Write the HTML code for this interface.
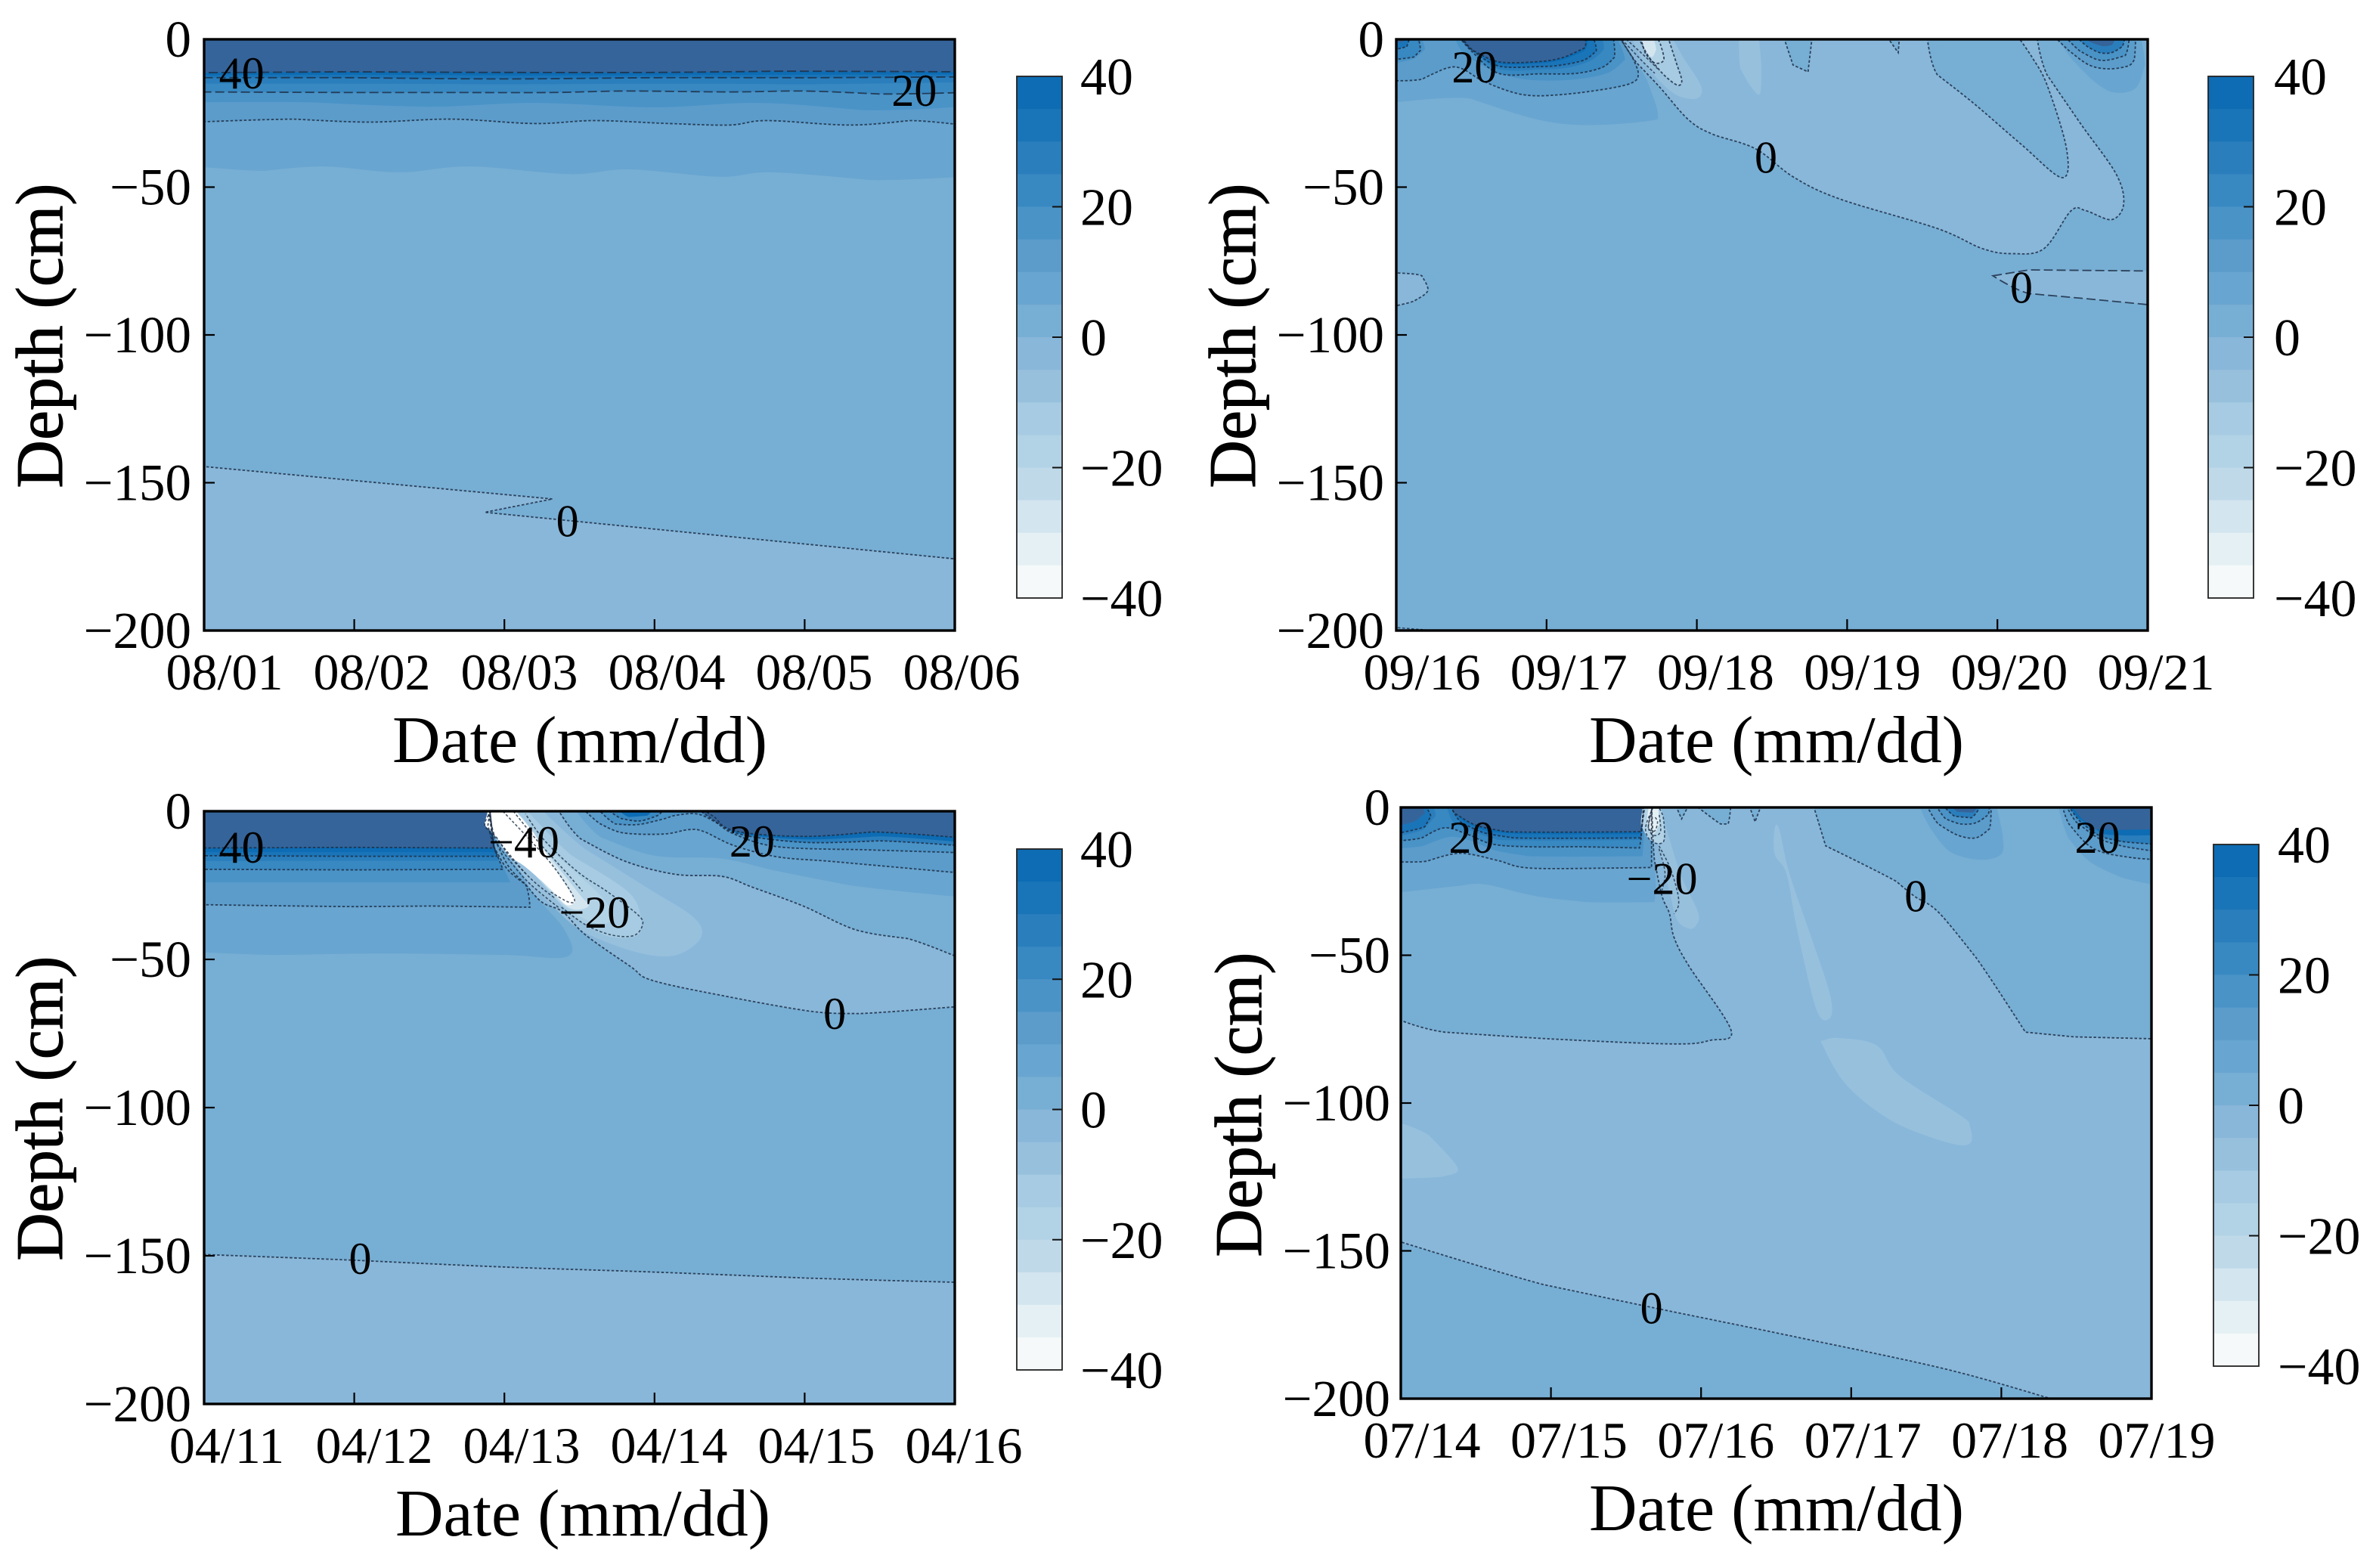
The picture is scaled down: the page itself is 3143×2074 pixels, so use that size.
<!DOCTYPE html>
<html lang="en">
<head>
<meta charset="utf-8">
<title>Soil temperature contour panels</title>
<style>
html,body{margin:0;padding:0;background:#fff;width:3143px;height:2074px;overflow:hidden}
svg{display:block}
text{font-family:"Liberation Serif","DejaVu Serif",serif;fill:#000}
</style>
</head>
<body>
<svg id="figure" xmlns="http://www.w3.org/2000/svg" width="3143" height="2074" viewBox="0 0 3143 2074"></svg>
<script>
/* ---------- shared axis values ---------- */
const dayTicks = [0, 1, 2, 3, 4, 5];
const depthTicks = [0, -50, -100, -150, -200];
const depthTickLabels = ['0', '\u221250', '\u2212100', '\u2212150', '\u2212200'];
const colorbarTicks = [40, 20, 0, -20, -40];
const colorbarTickLabels = ['40', '20', '0', '\u221220', '\u221240'];
const colorLevels = [35, 30, 25, 20, 15, 10, 5, 0, -5, -10, -15, -20, -25, -30, -35, -40];

const dayLabelsA = ['08/01', '08/02', '08/03', '08/04', '08/05', '08/06'];
const dayLabelsB = ['09/16', '09/17', '09/18', '09/19', '09/20', '09/21'];
const dayLabelsC = ['04/11', '04/12', '04/13', '04/14', '04/15', '04/16'];
const dayLabelsD = ['07/14', '07/15', '07/16', '07/17', '07/18', '07/19'];

/* Regions are rings of [day since start, cm below surface]; a third item 1 marks a sharp corner.
   Points outside the plot are only used to close a ring beyond the frame. */

/* ---------- panel A ---------- */
const aBaseLevel = -5;
const a0 = [[-.05,-2],[5.05,-2],[5.05,176],[1.87,160,1],[2.32,155.5,1],[-.05,144.3]];
const a5 = [[-.05,-2],[-.05,43],[.4,44.5],[.8,43],[1.3,45],[1.77,43],[2.43,45.6],[2.83,44],[3.43,46.5],[3.78,45],[4.44,47.6],[5.05,46.5],[5.05,-2]];
const a10 = [[-.05,-2],[-.05,28],[.6,27],[1.1,28],[1.65,27],[2.2,28.5],[2.6,27.5],[3.1,28.5],[3.5,29],[3.75,27.5],[4.3,29],[4.7,27.5],[5.05,29],[5.05,-2]];
const a15 = [[-.05,-2],[-.05,21.3],[.7,21.3],[1.5,22.8],[2.2,21.5],[3,23],[3.7,21.5],[4.4,24],[5.05,22.8],[5.05,-2]];
const a20 = [[-.05,-2],[-.05,17.8],[1,18],[1.7,18],[2.3,18],[2.8,17.5],[3.5,17.8],[4,17.5],[4.5,18.5],[5.05,18],[5.05,-2]];
const a25 = [[-.05,-2],[-.05,15],[1,15],[2,15.2],[3,15],[4,15.2],[5.05,14.5],[5.05,-2]];
const a30 = [[-.05,-2],[-.05,13],[1,13],[2,13.4],[3,13],[4,13],[5.05,12.7],[5.05,-2]];
const a35 = [[-.05,-2],[-.05,12.2],[1,12],[2,12.2],[3,12.2],[4,12],[5.05,11.9],[5.05,-2]];
const a40 = [[-.05,-2],[-.05,11.3],[1,11],[2,11.2],[3,11.2],[3.8,10.8],[5.05,11],[5.05,-2]];
const aBandLevels = [0, 5, 10, 15, 20, 25, 30, 35, 40];
const aBandRings = [a0, a5, a10, a15, a20, a25, a30, a35, a40];
const aContourRings = [a0, a10, a20, a30, a40];
const aExtraLines = [];
const aLabelText = ['40', '20', '0'];
const aLabelDays = [.25, 4.73, 2.42];
const aLabelDepths = [11.5, 17.4, 163];

/* ---------- panel B ---------- */
const bBaseLevel = 0;
const bLight = [[1.47,-2],[1.6,8],[1.75,16],[1.94,27],[2.1,32],[2.39,37],[2.64,46.5],[2.95,54],[3.6,64],[3.9,70.8],[4.1,72.5],[4.31,70.8],[4.49,58],[4.59,58],[4.76,61],[4.84,55.7],[4.79,45.6],[4.56,29],[4.33,12],[4.26,-2]];
const bIsland = [[3.53,-2],[3.6,12],[3.85,22],[4.16,35.6],[4.43,46.8],[4.46,37],[4.33,15.4],[4.23,6],[4.12,-2]];
const bNotch1 = [[2.57,-2],[2.64,8.7],[2.74,11,1],[2.77,-2]];
const bNotch2 = [[3.25,-2],[3.34,4.5,1],[3.35,-2]];
const bSpot = [[3.58,-2],[3.62,4.5],[3.68,4.5],[3.72,-2]];
const bStreak = [[2.28,-2],[2.29,10],[2.36,16],[2.42,18.5],[2.43,10],[2.41,-2]];
const bCold10 = [[1.55,-2],[1.65,8],[1.75,14],[1.87,19],[2,20],[2.03,16],[1.92,7],[1.82,-2]];
const bCold15 = [[1.6,-2],[1.68,6],[1.78,12],[1.87,15.5],[1.9,14],[1.87,9],[1.8,-2]];
const bCold20 = [[1.62,-2],[1.66,5],[1.72,8],[1.78,7],[1.76,2],[1.72,-2]];
const bCold30 = [[1.63,-2],[1.65,3],[1.7,6],[1.73,3.5],[1.7,-2]];
const bLensLeft = [[-.05,79],[.17,80],[.21,85],[.12,88.5],[-.05,90.6]];
const bLensRight = [[3.97,80,1],[4.21,78],[5.05,78.4],[5.05,90],[4.56,87.6],[4.21,86]];
const bPool5 = [[-.05,-2],[-.05,21.6],[.49,20],[.93,27],[1.26,29],[1.68,27.6],[1.74,25],[1.67,14],[1.47,-2]];
const bPool10 = [[-.05,-2],[-.05,14],[.17,13.5],[.34,9.7],[.44,10],[.59,14.4],[.84,18.7],[1.1,18.7],[1.43,16.5],[1.58,14.4],[1.61,11.4],[1.58,7],[1.47,-2]];
const bPool15 = [[.38,-2],[.45,5],[.62,10],[.85,13.5],[1.15,13.7],[1.4,11.5],[1.52,7],[1.45,-2]];
const bPool20 = [[.4,-2],[.5,4],[.68,11.5],[.96,11.7],[1.2,11.5],[1.37,9.5],[1.45,6.2],[1.44,-2]];
const bPool25 = [[.41,-2],[.5,3.5],[.68,10],[.96,10.2],[1.15,9.5],[1.3,7],[1.38,3.5],[1.36,-2]];
const bPool30 = [[.41,-2],[.5,3.5],[.68,9],[.96,9.2],[1.1,8.7],[1.25,7],[1.33,4],[1.3,-2]];
const bPool35 = [[.41,-2],[.5,3.7],[.68,8.2],[.93,8.2],[1.1,7],[1.25,4],[1.28,-2]];
const bPool40 = [[.42,-2],[.51,3.7],[.68,7.6],[.93,7.6],[1.1,6.3],[1.25,3],[1.25,-2]];
const bCorner15 = [[-.05,-2],[-.05,8.5],[.12,6.5],[.19,3.5],[.15,-2]];
const bCorner20 = [[-.05,-2],[-.05,7],[.12,5.9],[.16,3.8],[.14,-2]];
const bCorner30 = [[-.05,-2],[-.05,4],[.07,2.5],[.1,-2]];
const bCorner40 = [[-.05,-2],[-.05,1.7],[.05,.8],[.07,-2]];
const bRight5 = [[4.38,-2],[4.5,7],[4.65,14.5],[4.78,18],[4.92,16.5],[4.98,9],[4.95,-2]];
const bRight10 = [[4.36,-2],[4.48,4],[4.61,8.7],[4.74,10],[4.87,9],[4.91,7],[4.92,-2]];
const bRight15 = [[4.43,-2],[4.55,4],[4.66,6.8],[4.74,7],[4.85,5.5],[4.88,-2]];
const bRight25 = [[4.5,-2],[4.6,2.5],[4.68,4.5],[4.76,4.5],[4.83,2.5],[4.85,-2]];
const bRight40 = [[4.55,-2],[4.62,1],[4.7,2.3],[4.76,2],[4.8,-2]];
const bBandLevels = [-5, 0, 0, 0, 0, -10, -10, -15, -20, -30, -5, -5, 5, 10, 15, 20, 25, 30, 35, 40, 15, 20, 30, 40, 5, 10, 15, 25, 40];
const bBandRings = [bLight, bIsland, bNotch1, bNotch2, bSpot, bStreak, bCold10, bCold15, bCold20, bCold30, bLensLeft, bLensRight, bPool5, bPool10, bPool15, bPool20, bPool25, bPool30, bPool35, bPool40, bCorner15, bCorner20, bCorner30, bCorner40, bRight5, bRight10, bRight15, bRight25, bRight40];
const bContourRings = [bLight, bIsland, bNotch1, bNotch2, bCold15, bCold20, bLensLeft, bLensRight, bPool10, bPool20, bPool30, bPool40, bCorner20, bCorner30, bRight10, bRight15, bRight25];
const bExtraLines = [[[1.5,0],[1.63,7],[1.72,11.5]], [[1.53,0],[1.66,6],[1.74,10]], [[-.05,198.8],[.2,199.8]]];
const bLabelText = ['20', '0', '0'];
const bLabelDays = [.52, 2.46, 4.16];
const bLabelDepths = [9.5, 40, 84];

/* ---------- panel C ---------- */
const cBaseLevel = -5;
const cBottom0 = [[-.05,-2],[5.05,-2],[5.05,159],[4,157.5],[3,155.5],[2,153.8],[1,151.5],[-.05,149.5]];
const cLight = [[1.88,-2],[1.95,11],[2.03,18.8],[2.14,24.7],[2.25,30.7],[2.39,34],[2.54,41.7],[2.84,52.4],[2.98,57],[3.43,62],[4.04,67.5],[4.36,68.3],[5.05,65.8],[5.05,-2]];
const cTop0 = [[2.34,-2],[2.51,9.4],[2.81,17],[3.14,21.3],[3.45,22],[3.65,25.6],[3.99,32],[4.34,40],[4.69,43],[5.05,49.9],[5.05,-2]];
const cTop5 = [[2.45,-2],[2.65,9],[3,15],[3.45,16],[3.8,20],[4.3,25],[5.05,29],[5.05,-2]];
const cTop10 = [[2.5,-2],[2.64,4.3],[2.79,7.3],[3.06,7.7],[3.23,6.2],[3.33,6.9],[3.53,11.6],[3.82,15.4],[4.19,17],[4.94,20.4],[5.05,20.5],[5.05,-2]];
const cTop15 = [[2.6,-2],[2.74,4.3],[2.89,4.5],[3.06,2.6],[3.14,1.4],[3.28,.9],[3.4,3.5],[3.53,7.7],[3.82,12],[4.4,13],[5.05,14],[5.05,-2]];
const cPool20 = [[2.65,-2],[2.78,2.5],[2.9,3.3],[3.02,1.5],[3.08,-2]];
const cPool35 = [[2.72,-2],[2.83,2],[2.95,1.5],[3,-2]];
const cTop25 = [[3.27,-2],[3.4,2],[3.55,7.5],[4,10.5],[4.5,10],[5.05,11.7],[5.05,-2]];
const cTop35 = [[3.3,-2],[3.4,1.8],[3.55,7.2],[4,9.5],[4.5,8.5],[5.05,10.5],[5.05,-2]];
const cTop40 = [[3.27,-2],[3.35,1.5],[3.55,6.8],[4,8.5],[4.45,7],[5.05,9],[5.05,-2]];
const cLeft5 = [[-.05,-2],[-.05,47.5],[.5,48.5],[1.2,48],[2,48.5],[2.42,49],[2.4,40],[2.17,26],[1.97,6],[1.9,-2]];
const cLeft10 = [[-.05,-2],[-.05,31.5],[1,32.2],[1.5,32],[2.17,32.4,1],[2.14,24.7],[2.02,19.6],[1.93,12],[1.9,-2]];
const cLeft15 = [[-.05,-2],[-.05,24],[1,24],[2.04,24,1],[1.93,12],[1.9,-2]];
const cLeft20 = [[-.05,-2],[-.05,19.6],[1,19.8],[1.99,19.6,1],[1.93,12],[1.9,-2]];
const cLeft25 = [[-.05,-2],[-.05,16.8],[1,16.7],[1.96,16.7,1],[1.93,12],[1.9,-2]];
const cLeft30 = [[-.05,-2],[-.05,15],[1,15.2],[1.95,15.2,1],[1.93,12],[1.9,-2]];
const cLeft35 = [[-.05,-2],[-.05,13.8],[1,13.8],[1.94,13.8,1],[1.91,-2]];
const cLeft40 = [[-.05,-2],[-.05,12.4],[1,12.2],[1.93,12.4,1],[1.89,4.8],[1.91,-2]];
const cHalo10 = [[2.22,-2],[2.54,12.8],[2.97,26.4],[3.26,35.8],[3.31,42.6],[3.14,48.6],[2.89,47.7],[2.54,41],[2.34,33],[2.1,20],[1.92,8],[1.88,-2]];
const cHalo15 = [[2.12,-2],[2.45,15],[2.82,27],[2.91,36],[2.88,42],[2.68,42],[2.45,35],[2.3,27],[2,10],[1.9,-2]];
const cHalo20 = [[2.05,-2],[2.35,15],[2.65,29],[2.72,36],[2.62,38],[2.42,33],[2.28,26],[2,9],[1.9,-2]];
const cHalo30 = [[2.04,-2],[2.25,12],[2.5,28],[2.56,32],[2.45,33],[2.32,27.5],[2,9],[1.9,-2]];
const cWhite = [[1.91,-2],[1.87,4.8],[1.95,9],[2.03,15],[2.14,18.8],[2.31,26.4],[2.41,31.5],[2.47,30.7],[2.46,28.6],[2.37,22],[2.2,7.7],[2.04,-2]];
const cBandLevels = [0, -5, 0, 5, 10, 15, 20, 35, 25, 35, 40, 5, 10, 15, 20, 25, 30, 35, 40, -10, -15, -20, -30, -41];
const cBandRings = [cBottom0, cLight, cTop0, cTop5, cTop10, cTop15, cPool20, cPool35, cTop25, cTop35, cTop40, cLeft5, cLeft10, cLeft15, cLeft20, cLeft25, cLeft30, cLeft35, cLeft40, cHalo10, cHalo15, cHalo20, cHalo30, cWhite];
const cContourRings = [cBottom0, cLight, cTop0, cTop10, cTop15, cPool20, cTop25, cTop40, cLeft10, cLeft20, cLeft30, cLeft40];
const cExtraLines = [[[2.38,32.4],[2.54,38.3],[2.71,41.7],[2.86,42],[2.92,38.4],[2.89,35],[2.69,27.3],[2.49,20.5],[2.27,10],[2.14,.9]], [[1.99,0],[2.3,17],[2.46,28.9],[2.43,30.7],[2.3,27]], [[1.95,11],[2.14,23],[2.36,32.5]], [[1.96,10],[2.16,22],[2.34,29.5]], [[1.91,0],[1.87,4.8],[1.95,9],[2.03,15],[2.14,21]], [[2.06,0],[2.22,10],[2.4,20],[2.52,27]]];
const cLabelText = ['40', '\u221240', '20', '\u221220', '0', '0'];
const cLabelDays = [.25, 2.13, 3.65, 2.6, 4.2, 1.04];
const cLabelDepths = [12.2, 10.5, 10.2, 34.2, 68.4, 151];

/* ---------- panel D ---------- */
const dBaseLevel = -5;
const dBottom0 = [[-.05,146.2],[.95,161.4],[1.66,169],[2.62,179],[3.63,190],[4.33,200],[4.6,203],[-.05,203]];
const dLeft0 = [[-.05,-2],[-.05,71],[.29,76],[1,78.3],[1.81,80],[2.06,78.8],[2.2,75.4],[1.92,53.7],[1.82,44],[1.79,36],[1.74,30],[1.69,18],[1.67,-2]];
const dRight0 = [[2.74,-2],[2.83,13,1],[3.3,25],[3.42,30],[3.58,35.4],[3.83,50.7],[4.16,76,1],[4.48,77.6],[5.05,78.3],[5.05,-2]];
const dIsle1 = [[1.82,-2],[1.87,3.9],[1.93,-2]];
const dIsle2 = [[1.93,-2],[2.13,5.6],[2.18,5.6],[2.2,-2]];
const dIsle3 = [[2.31,-2],[2.36,4.8],[2.41,-2]];
const dStreak = [[2.49,7.3],[2.49,15.8],[2.57,22.6],[2.64,41.4],[2.77,68.6],[2.86,71.1],[2.86,63.5],[2.74,44.8],[2.59,22.6],[2.52,7.3]];
const dBlob = [[2.82,78.8],[2.92,78],[3.17,80.5],[3.32,90.7],[3.73,104.3],[3.79,107.7],[3.79,113.7],[3.63,113.2],[3.27,106],[2.97,94],[2.81,80.5]];
const dEdgeBlob = [[-.05,106],[.19,111],[.38,122],[.29,124.8],[-.05,125.6]];
const dColdStreak = [[1.72,-2],[1.79,10.7],[1.87,23.5],[1.98,35.4],[1.97,39.7],[1.92,41],[1.84,38],[1.79,28.6],[1.72,14],[1.67,-2]];
const dPool5 = [[-.05,-2],[-.05,29],[.39,26.5],[.56,26],[.9,30],[1.23,32],[1.69,32,1],[1.7,28],[1.67,-2]];
const dPool10 = [[-.05,-2],[-.05,18.4],[.17,18.2],[.34,15.8],[.46,15.8],[.65,18],[.86,20.5],[1.4,20.5],[1.67,20.3,1],[1.67,-2]];
const dPool15 = [[-.05,-2],[-.05,14],[.15,13],[.32,10],[.45,11],[.63,14.5],[.85,16.5],[1.61,16.5,1],[1.64,-2]];
const dPool20 = [[-.05,-2],[-.05,11.4],[.14,10.3],[.29,6.9],[.44,9],[.61,12.4],[.85,13.3],[1.18,13.3],[1.59,13.7,1],[1.6,10.7],[1.62,-2]];
const dPool25 = [[.3,-2],[.35,5],[.5,8.5],[.65,11],[1.6,11,1],[1.62,-2]];
const dPool30 = [[.32,-2],[.4,5],[.55,8.5],[.75,10.3],[1.6,10.3,1],[1.62,-2]];
const dPool35 = [[.33,-2],[.42,5],[.58,8],[.8,9],[1.6,9,1],[1.62,-2]];
const dPool40 = [[.33,-2],[.36,2],[.5,6],[.7,8.2],[1.6,8.2,1],[1.63,-2]];
const dCorner25 = [[-.05,-2],[-.05,10],[.15,7.5],[.23,3],[.2,-2]];
const dCorner30 = [[-.05,-2],[-.05,9],[.16,6.5],[.2,3],[.14,-2]];
const dCorner40 = [[-.05,-2],[-.05,6.5],[.1,4.5],[.16,2],[.12,-2]];
const dCold20 = [[1.62,-2],[1.6,6],[1.66,11],[1.75,11.5],[1.75,4],[1.72,-2]];
const dCold35 = [[1.66,-2],[1.64,5],[1.68,9],[1.72,6],[1.71,-2]];
const dSpot5 = [[3.44,-2],[3.53,7.3],[3.66,15],[3.86,17.7],[4,15.8],[4.01,9.9],[3.96,-2]];
const dSpot10 = [[3.49,-2],[3.58,5.6],[3.71,9.4],[3.83,10.3],[3.92,7.3],[3.93,-2]];
const dSpot15 = [[3.55,-2],[3.63,3.9],[3.73,5.6],[3.83,5.2],[3.91,2.6],[3.92,-2]];
const dSpot25 = [[3.59,-2],[3.69,3],[3.8,3.5],[3.88,-2]];
const dSpot40 = [[3.64,-2],[3.71,1.5],[3.81,1.8],[3.85,-2]];
const dRight5 = [[4.37,-2],[4.45,10.7],[4.59,18.4],[4.79,23.5],[5.05,26.5],[5.05,-2]];
const dRight10 = [[4.4,-2],[4.45,5.6],[4.57,12.4],[4.69,15.4],[4.87,17],[5.05,17.7],[5.05,-2]];
const dRight15 = [[4.42,-2],[4.5,5],[4.65,10.5],[4.8,13],[5.05,15],[5.05,-2]];
const dRight25 = [[4.43,-2],[4.52,4.5],[4.65,9.5],[4.8,11.5],[5.05,12.5],[5.05,-2]];
const dRight35 = [[4.44,-2],[4.52,4],[4.68,9],[5.05,9.3],[5.05,-2]];
const dRight40 = [[4.45,-2],[4.53,3.5],[4.62,7.3],[5.05,7.3],[5.05,-2]];
const dBandLevels = [0, 0, 0, 0, 0, 0, -10, -10, -10, -10, 5, 10, 15, 20, 25, 30, 35, 40, 25, 30, 40, -20, -35, 5, 10, 15, 25, 40, 5, 10, 15, 25, 35, 40];
const dBandRings = [dBottom0, dLeft0, dRight0, dIsle1, dIsle2, dIsle3, dStreak, dBlob, dEdgeBlob, dColdStreak, dPool5, dPool10, dPool15, dPool20, dPool25, dPool30, dPool35, dPool40, dCorner25, dCorner30, dCorner40, dCold20, dCold35, dSpot5, dSpot10, dSpot15, dSpot25, dSpot40, dRight5, dRight10, dRight15, dRight25, dRight35, dRight40];
const dContourRings = [dBottom0, dLeft0, dRight0, dIsle1, dIsle2, dIsle3, dPool10, dPool20, dPool30, dPool40, dCorner30, dSpot10, dSpot15, dSpot25, dRight10, dRight15, dRight25];
const dExtraLines = [[[1.68,0],[1.63,7],[1.67,11.5],[1.75,11.5],[1.75,4],[1.72,0]], [[1.67,1],[1.65,7],[1.69,9.5],[1.73,8],[1.72,2]], [[1.66,3],[1.65,7],[1.69,8],[1.71,5],[1.69,3]], [[1.72,13],[1.79,20],[1.84,28],[1.85,33],[1.82,36]], [[1.72,14],[1.76,22],[1.74,28]]];
const dLabelText = ['20', '\u221220', '0', '20', '0'];
const dLabelDays = [.47, 1.74, 3.43, 4.64, 1.67];
const dLabelDepths = [10.2, 24.2, 30, 10.2, 169.4];

/* ---------- rendering ---------- */
const NS = 'http://www.w3.org/2000/svg';
const root = document.getElementById('figure');
const DAY_SPAN = 5;
const DEPTH_SPAN = 200;
const X_TICK_FONT = 68;
const Y_TICK_FONT = 69;
const BAR_FONT = 70;
const TITLE_FONT = 88;
const INLINE_FONT = 60;

function bandColor(level) {
  if (level >= 40) return '#35649a';
  if (level >= 35) return '#0d6cb3';
  if (level >= 30) return '#1a74b8';
  if (level >= 25) return '#2a7ebc';
  if (level >= 20) return '#3888c1';
  if (level >= 15) return '#4a93c7';
  if (level >= 10) return '#5b9ccb';
  if (level >= 5) return '#68a5d0';
  if (level >= 0) return '#77aed4';
  if (level >= -5) return '#89b7d9';
  if (level >= -10) return '#97c0dd';
  if (level >= -15) return '#a6cbe2';
  if (level >= -20) return '#b2d2e6';
  if (level >= -25) return '#bfd9e9';
  if (level >= -30) return '#d3e5ef';
  if (level >= -35) return '#e5f0f4';
  if (level >= -40) return '#f5f9f9';
  return '#ffffff';
}

function make(tag, attrs, parent) {
  const el = document.createElementNS(NS, tag);
  for (const k in attrs) el.setAttribute(k, attrs[k]);
  parent.appendChild(el);
  return el;
}

function isCorner(p) {
  return p[0] < 0 || p[0] > DAY_SPAN || p[1] < 0 || p[1] > DEPTH_SPAN || p[2] === 1;
}

function curvePath(pts, closed, xOf, yOf) {
  const q = pts.map(p => [xOf(p[0]), yOf(-p[1])]);
  const n = pts.length;
  const T = 1 / 6;
  let d = 'M' + q[0][0].toFixed(1) + ' ' + q[0][1].toFixed(1);
  const segs = closed ? n : n - 1;
  for (let i = 0; i < segs; i++) {
    const i1 = i, i2 = (i + 1) % n;
    const i0 = closed ? (i - 1 + n) % n : Math.max(i - 1, 0);
    const i3 = closed ? (i + 2) % n : Math.min(i + 2, n - 1);
    const a = isCorner(pts[i0]) ? i1 : i0;
    const b = isCorner(pts[i3]) ? i2 : i3;
    const c1 = isCorner(pts[i1]) ? q[i1] : [q[i1][0] + T * (q[i2][0] - q[a][0]), q[i1][1] + T * (q[i2][1] - q[a][1])];
    const c2 = isCorner(pts[i2]) ? q[i2] : [q[i2][0] - T * (q[b][0] - q[i1][0]), q[i2][1] - T * (q[b][1] - q[i1][1])];
    d += 'C' + c1[0].toFixed(1) + ' ' + c1[1].toFixed(1) + ' ' + c2[0].toFixed(1) + ' ' + c2[1].toFixed(1) + ' ' + q[i2][0].toFixed(1) + ' ' + q[i2][1].toFixed(1);
  }
  return closed ? d + 'Z' : d;
}

function outOfDepth(p) {
  return p[1] < 0 || p[1] > DEPTH_SPAN;
}

function contourRuns(ring) {
  const n = ring.length;
  const start = ring.findIndex(outOfDepth);
  if (start < 0) return [{ pts: ring, closed: true }];
  const runs = [];
  let cur = [];
  for (let k = 0; k <= n; k++) {
    const p = ring[(start + k) % n];
    const prev = ring[(start + k - 1 + n) % n];
    if (outOfDepth(p)) {
      if (cur.length) {
        cur.push(p);
        runs.push({ pts: cur, closed: false });
        cur = [];
      }
    } else {
      if (!cur.length) cur.push(prev);
      cur.push(p);
    }
  }
  return runs;
}

function dashFor(pts, xOf, yOf) {
  let dx = 0, dy = 0;
  for (let i = 1; i < pts.length; i++) {
    dx += Math.abs(xOf(pts[i][0]) - xOf(pts[i - 1][0]));
    dy += Math.abs(yOf(-pts[i][1]) - yOf(-pts[i - 1][1]));
  }
  return dy < dx * 0.08 ? '36 12' : (dy < dx * 0.22 ? '12 5' : '3.5 2.5');
}

function drawPanel(cfg) {
  const xOf = day => cfg.x0 + day * (cfg.x1 - cfg.x0) / DAY_SPAN;
  const yOf = depth => cfg.y0 + (-depth) * (cfg.y1 - cfg.y0) / DEPTH_SPAN;
  const cbY = temp => cfg.cbTop + (40 - temp) * (cfg.cbBottom - cfg.cbTop) / 80;

  const group = make('g', {}, root);
  
  

  const defs = make('defs', {}, group);
  const clip = make('clipPath', { id: 'clip-' + cfg.key }, defs);
  make('rect', { x: cfg.x0, y: cfg.y0, width: cfg.x1 - cfg.x0, height: cfg.y1 - cfg.y0 }, clip);

  const plot = make('g', { 'clip-path': 'url(#clip-' + cfg.key + ')' }, group);
  
  

  const base = make('rect', { x: cfg.x0, y: cfg.y0, width: cfg.x1 - cfg.x0, height: cfg.y1 - cfg.y0, fill: bandColor(cfg.baseLevel) }, plot);
  
  

  cfg.bandRings.forEach((ring, i) => {
    const band = make('path', { d: curvePath(ring, true, xOf, yOf), fill: bandColor(cfg.bandLevels[i]) }, plot);
    
    
  });

  cfg.contourRings.forEach(ring => {
    contourRuns(ring).forEach(run => {
      const dash = dashFor(run.pts, xOf, yOf);
      const line = make('path', { d: curvePath(run.pts, run.closed, xOf, yOf), fill: 'none', stroke: '#1d2f47', 'stroke-width': dash === '36 12' ? 2.2 : 1.8, 'stroke-dasharray': dash, 'stroke-opacity': .85 }, plot);
      
      
    });
  });

  cfg.extraLines.forEach(pts => {
    const line = make('path', { d: curvePath(pts, false, xOf, yOf), fill: 'none', stroke: '#1d2f47', 'stroke-width': 1.6, 'stroke-dasharray': '3.5 2.5', 'stroke-opacity': .8 }, plot);
    
    
  });

  cfg.labelText.forEach((t, i) => {
    const label = make('text', { x: xOf(cfg.labelDays[i]), y: yOf(-cfg.labelDepths[i]) + 20, 'text-anchor': 'middle', 'font-size': INLINE_FONT }, group);
    label.textContent = t;
    
    
  });

  const frame = make('rect', { x: cfg.x0, y: cfg.y0, width: cfg.x1 - cfg.x0, height: cfg.y1 - cfg.y0, fill: 'none', stroke: '#000', 'stroke-width': 3.4 }, group);
  
  

  dayTicks.forEach((v, i) => {
    if (v > 0 && v < DAY_SPAN) {
      const tick = make('line', { x1: xOf(v), x2: xOf(v), y1: cfg.y1, y2: cfg.y1 - 15, stroke: '#000', 'stroke-width': 2.2 }, group);
      
      
    }
    const label = make('text', { x: cfg.xLabelStart + i * cfg.xLabelStep, y: cfg.y1 + 78, 'text-anchor': 'middle', 'font-size': X_TICK_FONT }, group);
    label.textContent = cfg.dayLabels[i];
    
    
  });

  depthTicks.forEach((v, i) => {
    if (v !== 0 && v !== -DEPTH_SPAN) {
      const tick = make('line', { x1: cfg.x0, x2: cfg.x0 + 14, y1: yOf(v), y2: yOf(v), stroke: '#000', 'stroke-width': 2.2 }, group);
      
      
    }
    const label = make('text', { x: cfg.yLabelRight, y: yOf(v) + 23, 'text-anchor': 'end', 'font-size': Y_TICK_FONT }, group);
    label.textContent = depthTickLabels[i];
    
    
  });

  const xTitle = make('text', { x: cfg.xTitleX, y: cfg.y1 + 174, 'text-anchor': 'middle', 'font-size': TITLE_FONT }, group);
  xTitle.textContent = 'Date (mm/dd)';
  
  

  const yTitle = make('text', { x: cfg.yTitleX, y: cfg.yTitleY, 'text-anchor': 'middle', 'font-size': TITLE_FONT, stroke: '#000', 'stroke-width': 1, transform: 'rotate(-90 ' + cfg.yTitleX + ' ' + cfg.yTitleY + ')' }, group);
  yTitle.textContent = 'Depth (cm)';
  
  

  const bar = make('g', {}, group);
  
  

  colorLevels.forEach(level => {
    const seg = make('rect', { x: cfg.cbLeft, y: cbY(level + 5), width: cfg.cbRight - cfg.cbLeft, height: cbY(level) - cbY(level + 5) + .5, fill: bandColor(level) }, bar);
    
    
  });

  const barFrame = make('rect', { x: cfg.cbLeft, y: cfg.cbTop, width: cfg.cbRight - cfg.cbLeft, height: cfg.cbBottom - cfg.cbTop, fill: 'none', stroke: '#222', 'stroke-width': 1.8 }, bar);
  
  

  colorbarTicks.forEach((v, i) => {
    if (Math.abs(v) < 40) {
      const tick = make('line', { x1: cfg.cbRight - 13, x2: cfg.cbRight, y1: cbY(v), y2: cbY(v), stroke: '#111', 'stroke-width': 2 }, bar);
      
      
    }
    const label = make('text', { x: cfg.cbLabelLeft, y: cbY(v) + 24, 'font-size': BAR_FONT }, bar);
    label.textContent = colorbarTickLabels[i];
    
    
  });
}

drawPanel({ key: 'a', x0: 270, x1: 1263, y0: 52, y1: 834, cbLeft: 1345, cbRight: 1405, cbTop: 101, cbBottom: 791, cbLabelLeft: 1429, yLabelRight: 253, yTitleX: 82, yTitleY: 444, xTitleX: 767, xLabelStart: 297, xLabelStep: 195, dayLabels: dayLabelsA, baseLevel: aBaseLevel, bandLevels: aBandLevels, bandRings: aBandRings, contourRings: aContourRings, extraLines: aExtraLines, labelText: aLabelText, labelDays: aLabelDays, labelDepths: aLabelDepths });
drawPanel({ key: 'b', x0: 1847, x1: 2841, y0: 52, y1: 834, cbLeft: 2921, cbRight: 2981, cbTop: 101, cbBottom: 791, cbLabelLeft: 3008, yLabelRight: 1831, yTitleX: 1660, yTitleY: 444, xTitleX: 2350, xLabelStart: 1881, xLabelStep: 194.2, dayLabels: dayLabelsB, baseLevel: bBaseLevel, bandLevels: bBandLevels, bandRings: bBandRings, contourRings: bContourRings, extraLines: bExtraLines, labelText: bLabelText, labelDays: bLabelDays, labelDepths: bLabelDepths });
drawPanel({ key: 'c', x0: 270, x1: 1263, y0: 1073, y1: 1857, cbLeft: 1345, cbRight: 1405, cbTop: 1123, cbBottom: 1812, cbLabelLeft: 1429, yLabelRight: 253, yTitleX: 82, yTitleY: 1466, xTitleX: 771, xLabelStart: 300, xLabelStep: 195, dayLabels: dayLabelsC, baseLevel: cBaseLevel, bandLevels: cBandLevels, bandRings: cBandRings, contourRings: cContourRings, extraLines: cExtraLines, labelText: cLabelText, labelDays: cLabelDays, labelDepths: cLabelDepths });
drawPanel({ key: 'd', x0: 1853, x1: 2846, y0: 1068, y1: 1850, cbLeft: 2928, cbRight: 2988, cbTop: 1117, cbBottom: 1807, cbLabelLeft: 3013, yLabelRight: 1839, yTitleX: 1668, yTitleY: 1461, xTitleX: 2350, xLabelStart: 1881, xLabelStep: 194.4, dayLabels: dayLabelsD, baseLevel: dBaseLevel, bandLevels: dBandLevels, bandRings: dBandRings, contourRings: dContourRings, extraLines: dExtraLines, labelText: dLabelText, labelDays: dLabelDays, labelDepths: dLabelDepths });
</script>
</body>
</html>
